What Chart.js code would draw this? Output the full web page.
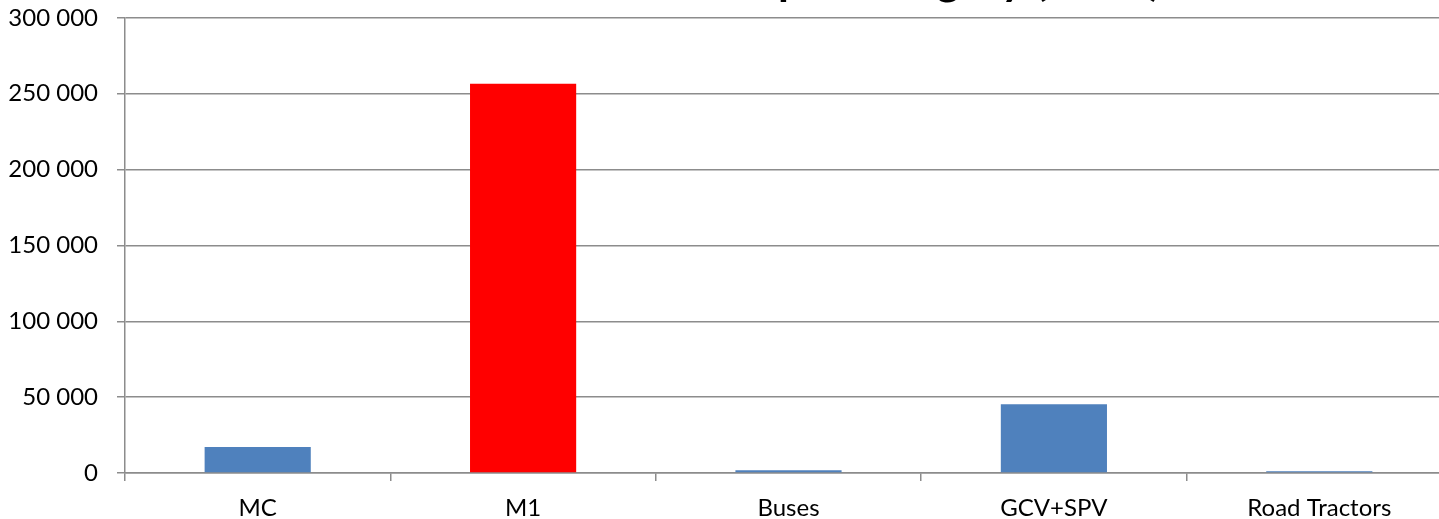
<!DOCTYPE html>
<html>
<head>
<meta charset="utf-8">
<script src="https://cdn.jsdelivr.net/npm/chart.js@4.4.0/dist/chart.umd.min.js"></script>
<style>
  html, body { margin: 0; padding: 0; background: #ffffff; overflow: hidden; width: 1439px; height: 519px; }
  #wrap { position: absolute; left: 0; top: -46px; width: 1460px; height: 565px; }
</style>
</head>
<body>
<div id="wrap"><canvas id="c" width="1460" height="565"></canvas></div>
<script>
const titleText = "Total number of vehicles per category (2015)";
const categories = ["MC", "M1", "Buses", "GCV+SPV", "Road Tractors"];
const values = [17100, 256600, 1800, 45300, 1100];
const barColors = ["#4F81BD", "#FF0000", "#4F81BD", "#4F81BD", "#4F81BD"];
const yMin = 0, yMax = 300000, yStep = 50000;

const gridColor = "#8c8c8c";
const fontFamily = "Lato, 'Open Sans', sans-serif";

function fmt(v) {
  return String(v).replace(/\B(?=(\d{3})+(?!\d))/g, " ");
}

new Chart(document.getElementById("c"), {
  type: "bar",
  data: {
    labels: categories,
    datasets: [{
      data: values,
      backgroundColor: barColors,
      borderWidth: 0,
      barPercentage: 0.4,
      categoryPercentage: 1.0
    }]
  },
  options: {
    responsive: false,
    animation: false,
    devicePixelRatio: 1,
    layout: { padding: { left: 0, right: 8, top: 0, bottom: 0 } },
    plugins: {
      legend: { display: false },
      tooltip: { enabled: false },
      title: {
        display: true,
        text: titleText,
        color: "#000000",
        font: { family: "Lato, sans-serif", size: 44, weight: "bold", lineHeight: 1.2 },
        padding: { top: 0, bottom: 11 }
      }
    },
    scales: {
      x: {
        offset: true,
        grid: {
          display: true,
          offset: true,
          drawOnChartArea: false,
          drawTicks: true,
          tickLength: 8,
          color: gridColor,
          lineWidth: 1.5
        },
        border: { display: true, color: gridColor, width: 1.5 },
        ticks: {
          color: "#000000",
          font: { family: fontFamily, size: 24 },
          padding: 13,
          maxRotation: 0,
          autoSkip: false
        },
        afterFit: function (scale) { scale.height = 46; }
      },
      y: {
        min: yMin,
        max: yMax,
        grid: {
          display: true,
          drawTicks: true,
          tickLength: 8,
          color: gridColor,
          lineWidth: 1.5
        },
        border: { display: true, color: gridColor, width: 1.5 },
        ticks: {
          stepSize: yStep,
          color: "#000000",
          font: { family: fontFamily, size: 24 },
          padding: 19,
          callback: function (v) { return fmt(v); }
        },
        afterFit: function (scale) { scale.width = 125; }
      }
    }
  }
});
</script>
</body>
</html>
